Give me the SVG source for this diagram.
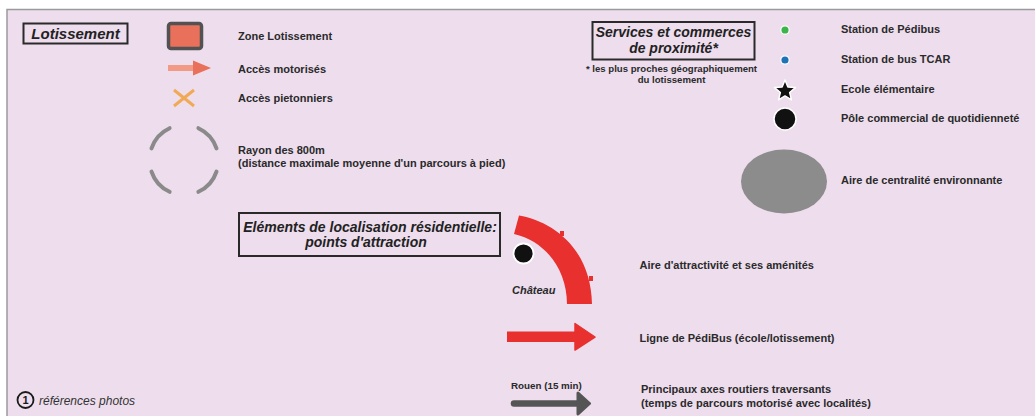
<svg xmlns="http://www.w3.org/2000/svg" width="1035" height="416" viewBox="0 0 1035 416">
<style>
.t{font-family:"Liberation Sans",Arial,sans-serif;font-size:11px;font-weight:bold;fill:#2a2a2a}
.h{font-family:"Liberation Sans",Arial,sans-serif;font-size:14px;font-weight:bold;font-style:italic;fill:#222}
.hb{fill:none;stroke:#2a2a2a;stroke-width:2}
.fn{font-family:"Liberation Sans",Arial,sans-serif;font-size:9.6px;font-weight:bold;fill:#2a2a2a}
.dash{fill:none;stroke:#8a8a8a;stroke-width:4;stroke-linecap:round}
</style>
<rect x="0" y="0" width="1035" height="416" fill="#ffffff"/>
<rect x="7" y="9.5" width="1040" height="420" fill="#eddded" stroke="#9a9a9a" stroke-width="1.5"/>

<g id="titre-lotissement">
<rect class="hb" x="23.5" y="23.5" width="104" height="20"/>
<text class="h" x="75.5" y="38.5" text-anchor="middle" style="font-size:15px">Lotissement</text>
</g>

<g id="zone-lotissement">
<rect x="168.5" y="23.5" width="33" height="25" rx="2.5" fill="#e9705b" stroke="#525252" stroke-width="3.5"/>
<text class="t" x="238" y="40">Zone Lotissement</text>
</g>

<g id="acces-motorises">
<rect x="168" y="65" width="27" height="6" fill="#f29a86"/>
<polygon points="193,60.5 211,68 193,75.5" fill="#e9705b"/>
<text class="t" x="238" y="72.5">Accès motorisés</text>
</g>

<g id="acces-pietonniers">
<path d="M174,90 L194,106 M194,90 L174,106" stroke="#f0aa55" stroke-width="3" fill="none"/>
<text class="t" x="238" y="102">Accès pietonniers</text>
</g>

<g id="rayon-800m">
<path class="dash" d="M151.5,148.4 A34,34 0 0 1 169.6,128.2"/>
<path class="dash" d="M198.4,128.2 A34,34 0 0 1 216.5,148.4"/>
<path class="dash" d="M216.5,171.6 A34,34 0 0 1 198.4,191.8"/>
<path class="dash" d="M169.6,191.8 A34,34 0 0 1 151.5,171.6"/>
<text class="t" x="238" y="154">Rayon des 800m</text>
<text class="t" x="238" y="167">(distance maximale moyenne d'un parcours à pied)</text>
</g>

<g id="titre-services">
<rect class="hb" x="592.5" y="22" width="162" height="37.5"/>
<text class="h" x="673.5" y="37" text-anchor="middle">Services et commerces</text>
<text class="h" x="673.5" y="53" text-anchor="middle">de proximité*</text>
<text class="fn" x="671.5" y="72" text-anchor="middle">* les plus proches géographiquement</text>
<text class="fn" x="671.5" y="82.5" text-anchor="middle">du lotissement</text>
</g>

<g id="station-pedibus">
<circle cx="785" cy="30" r="4.2" fill="#3bb54a" stroke="#ffffff" stroke-width="1.2"/>
<text class="t" x="841" y="33">Station de Pédibus</text>
</g>

<g id="station-bus">
<circle cx="785" cy="60" r="4.2" fill="#1f72b5" stroke="#ffffff" stroke-width="1.2"/>
<text class="t" x="841" y="63">Station de bus TCAR</text>
</g>

<g id="ecole">
<polygon points="785,80 787.88,87.03 795.46,87.6 789.66,92.51 791.47,99.9 785,95.9 778.53,99.9 780.34,92.51 774.54,87.6 782.12,87.03" fill="#111" stroke="#ffffff" stroke-width="1.5" stroke-linejoin="round"/>
<text class="t" x="841" y="93">Ecole élémentaire</text>
</g>

<g id="pole-commercial">
<circle cx="785" cy="119" r="11" fill="#111" stroke="#ffffff" stroke-width="1.5"/>
<text class="t" x="841" y="122">Pôle commercial de quotidienneté</text>
</g>

<g id="aire-centralite">
<ellipse cx="784" cy="181.5" rx="43" ry="32" fill="#8c8c8c"/>
<text class="t" x="841" y="184">Aire de centralité environnante</text>
</g>

<g id="titre-elements">
<rect class="hb" x="239" y="213" width="261" height="43"/>
<text class="h" x="370" y="231.5" text-anchor="middle">Eléments de localisation résidentielle:</text>
<text class="h" x="366" y="247" text-anchor="middle">points d'attraction</text>
</g>

<g id="aire-attractivite">
<path d="M519,215.5 C552,221 591,248 592,304 L567,304 C567,269 545,241 514,234 Z" fill="#e8312f"/>
<rect x="560" y="231" width="4" height="5" fill="#e8312f"/>
<rect x="589" y="276" width="4" height="5" fill="#e8312f"/>
<circle cx="523.5" cy="253.5" r="10" fill="#111" stroke="#ffffff" stroke-width="1.8"/>
<text class="t" x="512" y="293.5" style="font-style:italic">Château</text>
<text class="t" x="639.5" y="268.5">Aire d'attractivité et ses aménités</text>
</g>

<g id="ligne-pedibus">
<rect x="507" y="331.5" width="70" height="10.5" fill="#e8312f"/>
<polygon points="575,323.5 595,337 575,350" fill="#e8312f" stroke="#e8312f" stroke-width="1.5" stroke-linejoin="round"/>
<text class="t" x="639.5" y="341.5">Ligne de PédiBus (école/lotissement)</text>
</g>

<g id="axes-routiers">
<line x1="514" y1="403.5" x2="580" y2="403.5" stroke="#555555" stroke-width="6.5" stroke-linecap="round"/>
<polygon points="578,393 589.5,403.5 578,414" fill="#555555" stroke="#555555" stroke-width="3" stroke-linejoin="round"/>
<text class="t" x="511" y="388.5" style="font-size:9.8px">Rouen (15 min)</text>
<text class="t" x="641" y="392.5">Principaux axes routiers traversants</text>
<text class="t" x="641" y="406.5">(temps de parcours motorisé avec localités)</text>
</g>

<g id="references-photos">
<circle cx="25.5" cy="400" r="8" fill="none" stroke="#1a1a1a" stroke-width="1.8"/>
<text x="25.5" y="404" text-anchor="middle" style="font-family:'Liberation Sans',Arial,sans-serif;font-size:11px;font-weight:bold;fill:#1a1a1a">1</text>
<text x="39" y="405" style="font-family:'Liberation Sans',Arial,sans-serif;font-size:12px;font-style:italic;fill:#333">références photos</text>
</g>
</svg>
